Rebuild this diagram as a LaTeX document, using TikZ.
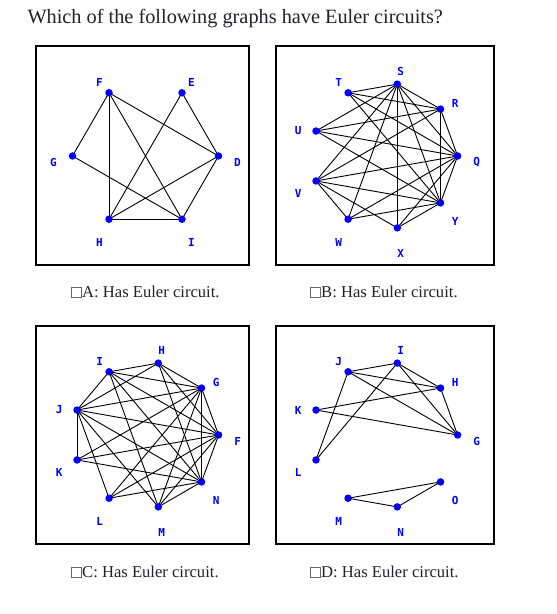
\documentclass[tikz,border=0pt]{standalone}
\usepackage{fontspec}
\setmainfont{Liberation Serif}
\newfontfamily\labfont{DejaVu Sans Mono}
\usetikzlibrary{calc}
\pgfdeclarelayer{back}
\pgfdeclarelayer{bg}
\pgfsetlayers{back,bg,main}
\definecolor{nodeblue}{RGB}{0,0,255}
\definecolor{txt}{RGB}{34,34,40}
\tikzset{
  dot/.style={circle,fill=nodeblue,inner sep=0pt,minimum size=7.5pt},
  lab/.style={text=nodeblue,font=\labfont\bfseries\fontsize{11}{11}\selectfont,inner sep=0pt},
  edge/.style={line width=0.9pt,black},
  panel/.style={draw=black,line width=1.2pt},
  cbox/.style={draw=black!60,line width=0.8pt},
  captext/.style={font=\fontsize{16.6}{16.6}\selectfont,text=txt,anchor=base west,inner sep=0pt}
}
\begin{document}
\begin{tikzpicture}[x=1pt,y=1pt]
\useasboundingbox (0,0) rectangle (557,614);
\begin{pgfonlayer}{back}
\fill[white] (0,0) rectangle (557,614);
\end{pgfonlayer}
% title
\node[font=\fontsize{20.3}{20.3}\selectfont,text=txt,anchor=base west,inner sep=0pt] (title) at (27.3,590) {Which of the following graphs have Euler circuits?};
% panels
\draw[panel] (36,349) rectangle (249,568);
\draw[panel] (276,349) rectangle (494,568);
\draw[panel] (36,70) rectangle (249,288);
\draw[panel] (276,70) rectangle (494,288);
% centers
\coordinate (ac) at (145.5,458);
\coordinate (bc) at (384.6,458);
\coordinate (cc) at (145.6,179);
\coordinate (dc) at (384.6,179);
% Panel A
\foreach \n/\a in {D/0,E/60,F/120,G/180,H/240,I/300}{
  \node[dot] (a\n) at ($(ac)+(\a:73)$) {};
  \node[lab] (al\n) at ($(ac)+(\a:92)+(0,-6.5)$) {\n};
}
\begin{pgfonlayer}{bg}
\foreach \u/\v in {F/G,F/H,F/I,F/D,E/H,E/D,G/I,D/H,D/I,H/I}
  \draw[edge] (a\u.center) -- (a\v.center);
\end{pgfonlayer}
% Panel B
\foreach \n/\a in {Q/0,R/40,S/80,T/120,U/160,V/200,W/240,X/280,Y/320}{
  \node[dot] (b\n) at ($(bc)+(\a:73)$) {};
  \node[lab] (bl\n) at ($(bc)+(\a:92)+(0,-6.5)$) {\n};
}
\begin{pgfonlayer}{bg}
\foreach \u/\v in {S/T,S/R,S/Q,S/Y,S/X,S/W,S/V,S/U,T/R,T/Q,T/Y,R/U,R/V,R/Q,R/Y,U/Q,U/Y,Q/V,Q/W,Q/X,Q/Y,V/Y,V/X,V/W,W/Y,X/Y}
  \draw[edge] (b\u.center) -- (b\v.center);
\end{pgfonlayer}
% Panel C
\foreach \n/\a in {F/0,G/40,H/80,I/120,J/160,K/200,L/240,M/280,N/320}{
  \node[dot] (c\n) at ($(cc)+(\a:73)$) {};
  \node[lab] (cl\n) at ($(cc)+(\a:92)+(0,-6.5)$) {\n};
}
\begin{pgfonlayer}{bg}
\foreach \u/\v in {J/I,J/H,J/G,J/F,J/N,J/M,J/L,J/K,I/H,I/G,I/F,I/N,I/M,K/G,K/F,K/N,L/G,L/F,L/N,M/G,M/F,M/N,H/G,H/F,H/N,G/F,G/N,F/N}
  \draw[edge] (c\u.center) -- (c\v.center);
\end{pgfonlayer}
% Panel D
\foreach \n/\a in {G/0,H/40,I/80,J/120,K/160,L/200,M/240,N/280,O/320}{
  \node[dot] (d\n) at ($(dc)+(\a:73)$) {};
  \node[lab] (dl\n) at ($(dc)+(\a:92)+(0,-6.5)$) {\n};
}
\begin{pgfonlayer}{bg}
\foreach \u/\v in {J/I,J/H,J/G,J/L,I/H,I/G,I/L,H/G,H/K,K/G,M/O,M/N,N/O}
  \draw[edge] (d\u.center) -- (d\v.center);
\end{pgfonlayer}
% captions
\draw[cbox] (71.7,316.7) rectangle (81.7,326.7);
\node[captext] (capA) at (82,316.7) {A: Has Euler circuit.};
\draw[cbox] (310.7,316.7) rectangle (320.7,326.7);
\node[captext] (capB) at (321,316.7) {B: Has Euler circuit.};
\draw[cbox] (71.7,36.7) rectangle (81.7,46.7);
\node[captext] (capC) at (82,36.7) {C: Has Euler circuit.};
\draw[cbox] (310.7,36.7) rectangle (320.7,46.7);
\node[captext] (capD) at (321,36.7) {D: Has Euler circuit.};
\end{tikzpicture}
\end{document}
